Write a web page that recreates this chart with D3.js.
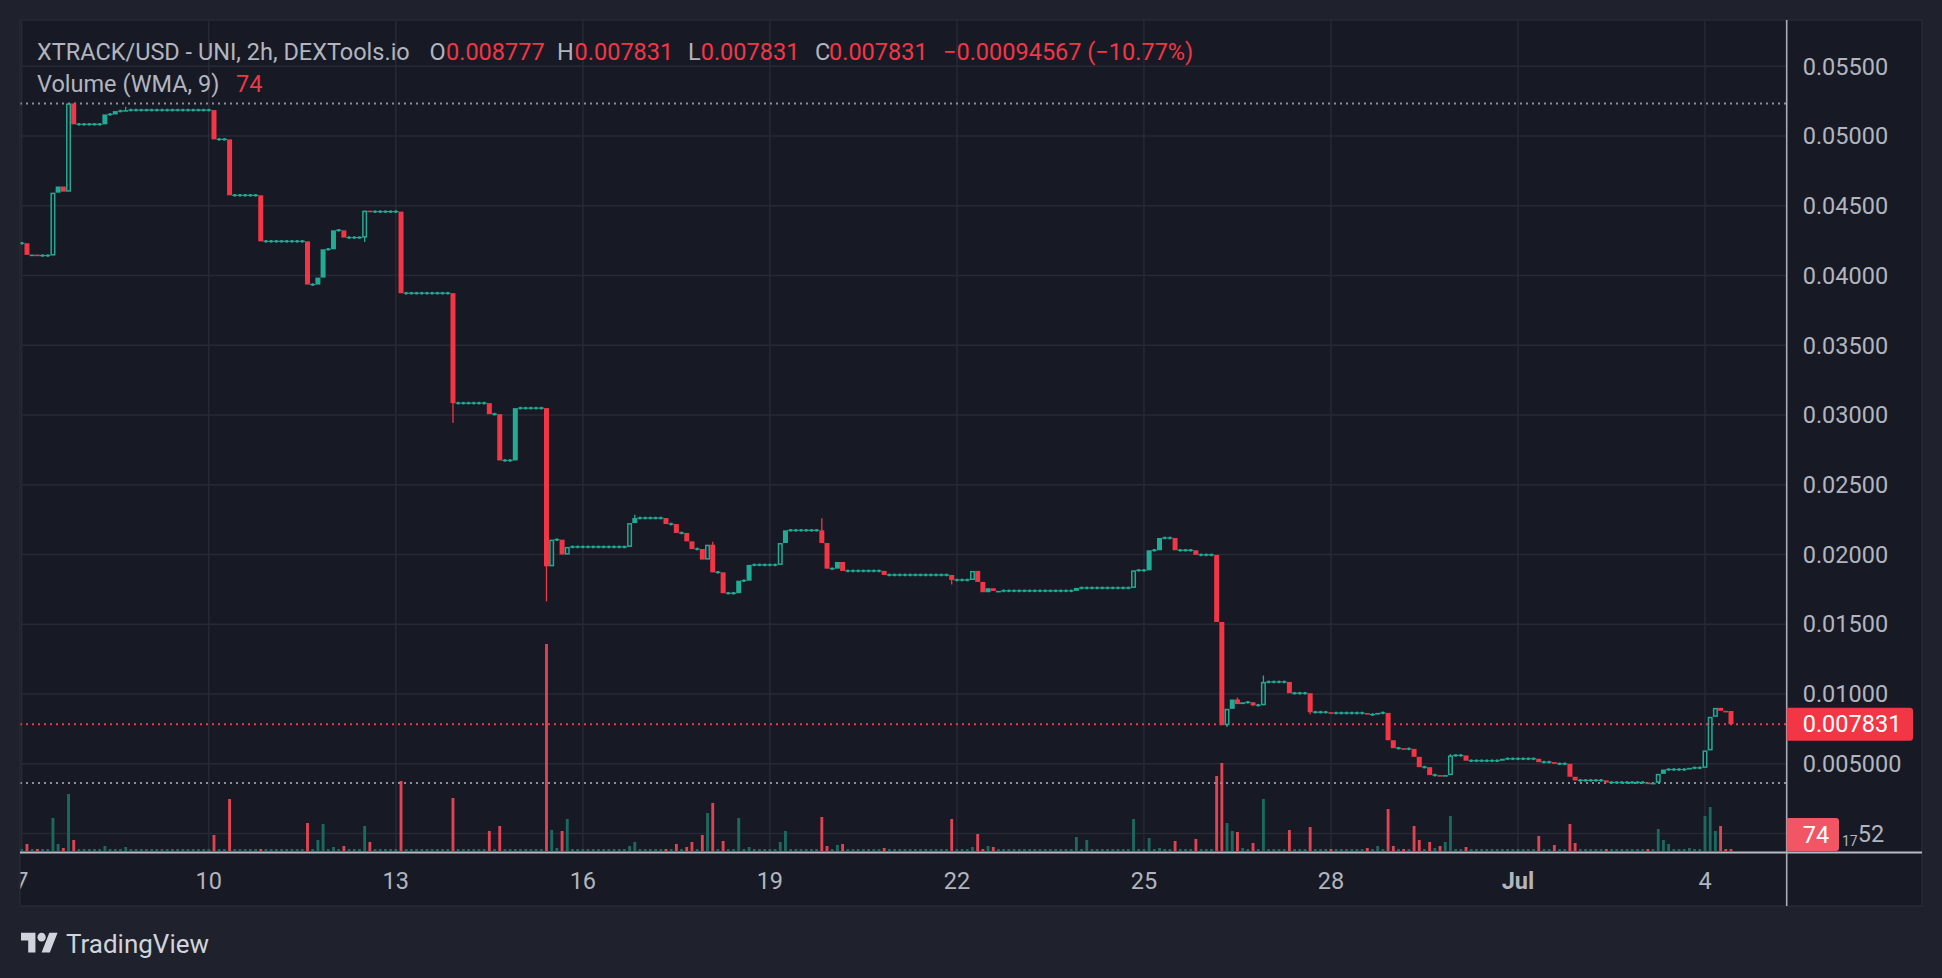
<!DOCTYPE html>
<html><head><meta charset="utf-8">
<script src="https://cdn.jsdelivr.net/npm/d3@7"></script>
<style>
html,body{margin:0;padding:0;background:#1f222d;}
svg{display:block;}
text{font-family:Roboto,"DejaVu Sans",sans-serif;}
</style></head><body>
<svg id="c" width="1942" height="978"></svg>
<script>
// ---------------- DATA ----------------
const startTime = Date.UTC(2024, 5, 7, 0);   // first 2h candle
const barHours = 2;
const firstOpen = 0.04231;
const closes = [
0.04231,0.04148,0.04150,0.04143,0.04143,0.04143,0.04594,0.04638,0.04601,0.05234,
0.05084,0.05084,0.05084,0.05084,0.05084,0.05084,0.05155,0.05155,0.05179,0.05179,
0.05186,0.05186,0.05186,0.05186,0.05186,0.05186,0.05186,0.05186,0.05186,0.05186,
0.05186,0.05186,0.05186,0.05186,0.05186,0.05186,0.05186,0.04976,0.04976,0.04976,
0.04575,0.04575,0.04575,0.04575,0.04575,0.04575,0.04245,0.04245,0.04245,0.04245,
0.04245,0.04245,0.04245,0.04245,0.04245,0.03935,0.03935,0.03985,0.04188,0.04188,
0.04324,0.04324,0.04272,0.04272,0.04272,0.04272,0.04465,0.04458,0.04458,0.04458,
0.04458,0.04458,0.04458,0.03873,0.03873,0.03873,0.03873,0.03873,0.03873,0.03873,
0.03873,0.03873,0.03873,0.03085,0.03085,0.03085,0.03085,0.03085,0.03085,0.03085,
0.03006,0.03006,0.02674,0.02674,0.02674,0.03049,0.03049,0.03049,0.03049,0.03049,
0.03049,0.01915,0.02106,0.02106,0.01999,0.02054,0.02054,0.02054,0.02054,0.02054,
0.02054,0.02054,0.02054,0.02054,0.02054,0.02054,0.02054,0.02225,0.02261,0.02261,
0.02261,0.02261,0.02261,0.02261,0.02218,0.02218,0.02154,0.02154,0.02094,0.02039,
0.02039,0.01963,0.02070,0.01872,0.01872,0.01722,0.01722,0.01722,0.01812,0.01812,
0.01925,0.01925,0.01925,0.01925,0.01925,0.01925,0.02082,0.02173,0.02173,0.02173,
0.02173,0.02173,0.02173,0.02173,0.02082,0.01898,0.01898,0.01946,0.01882,0.01882,
0.01882,0.01882,0.01882,0.01882,0.01882,0.01882,0.01853,0.01853,0.01853,0.01853,
0.01853,0.01853,0.01853,0.01853,0.01853,0.01853,0.01853,0.01853,0.01853,0.01817,
0.01817,0.01817,0.01817,0.01882,0.01803,0.01729,0.01758,0.01738,0.01739,0.01739,
0.01739,0.01739,0.01739,0.01739,0.01739,0.01739,0.01739,0.01739,0.01739,0.01739,
0.01739,0.01739,0.01739,0.01760,0.01760,0.01760,0.01760,0.01760,0.01760,0.01760,
0.01760,0.01760,0.01760,0.01760,0.01886,0.01886,0.01886,0.02030,0.02030,0.02118,
0.02118,0.02118,0.02030,0.02030,0.02030,0.02030,0.01997,0.01997,0.01997,0.01997,
0.01516,0.00776,0.00893,0.00960,0.00927,0.00940,0.00940,0.00919,0.00919,0.01086,
0.01086,0.01086,0.01086,0.01086,0.01005,0.01005,0.01005,0.01005,0.00869,0.00869,
0.00869,0.00869,0.00863,0.00863,0.00863,0.00863,0.00863,0.00863,0.00863,0.00852,
0.00852,0.00864,0.00864,0.00668,0.00611,0.00611,0.00606,0.00606,0.00549,0.00475,
0.00475,0.00418,0.00418,0.00410,0.00418,0.00559,0.00559,0.00559,0.00521,0.00521,
0.00521,0.00521,0.00521,0.00521,0.00521,0.00535,0.00535,0.00535,0.00535,0.00535,
0.00535,0.00535,0.00511,0.00511,0.00511,0.00499,0.00499,0.00499,0.00406,0.00380,
0.00380,0.00380,0.00380,0.00380,0.00380,0.00365,0.00365,0.00365,0.00365,0.00365,
0.00365,0.00365,0.00365,0.00362,0.00363,0.00427,0.00458,0.00458,0.00458,0.00458,
0.00458,0.00470,0.00470,0.00470,0.00595,0.00836,0.00900,0.00879,0.008777,0.007831
];
const wickHighs = [[20,0.0521],[118,0.02285],[133,0.02091],[154,0.0226],[234,0.00974],[239,0.01132],[275,0.00569]];
const wickLows  = [[66,0.0424],[83,0.02942],[101,0.01664],[179,0.01784],[232,0.00762],[237,0.00912],[248,0.00855]];
const volumes = [
74,259,74,74,74,74,1221,259,111,2109,
407,74,74,74,74,74,185,74,74,74,
148,74,74,74,74,74,74,74,74,74,
74,74,74,74,74,74,74,592,74,74,
1924,74,74,74,74,74,74,74,74,74,
74,74,74,74,74,1036,74,407,999,74,
148,74,185,74,74,74,925,333,74,74,
74,74,74,2590,74,74,74,74,74,74,
74,74,74,1961,74,74,74,74,74,74,
740,74,925,74,74,74,74,74,74,74,
74,7659,777,111,740,1184,74,74,74,74,
74,74,74,74,74,74,74,185,333,74,
74,74,74,74,74,74,259,74,148,333,
74,592,1406,1776,74,370,74,74,1221,74,
148,74,74,74,74,74,333,740,74,74,
74,74,74,74,1258,185,74,222,259,74,
74,74,74,74,74,74,111,74,74,74,
74,74,74,74,74,74,74,74,74,1184,
74,74,74,148,629,74,185,148,74,74,
74,74,74,74,74,74,74,74,74,74,
74,74,74,518,74,407,74,74,74,74,
74,74,74,74,1184,74,74,481,74,111,
74,74,370,74,74,74,444,74,74,74,
2775,3256,1036,740,703,111,74,296,74,1924,
74,74,74,74,777,74,74,74,888,74,
74,74,74,74,74,74,74,74,74,111,
74,185,74,1554,185,74,74,74,925,407,
74,333,111,185,333,1295,74,74,148,74,
74,74,74,74,74,74,74,74,74,74,
74,74,555,74,74,222,74,74,999,296,
74,74,74,74,74,74,74,74,74,74,
74,74,74,74,74,814,407,259,74,74,
74,111,74,74,1295,1628,740,925,74,74
];
const hollowCandles = [6,9,66,102,105,117,132,146,183,214,232,239,275,315,324,325,326];
const priceTicks = [0.005,0.010,0.015,0.020,0.025,0.030,0.035,0.040,0.045,0.050,0.055];
const priceTickLabels = ["0.005000","0.01000","0.01500","0.02000","0.02500","0.03000","0.03500","0.04000","0.04500","0.05000","0.05500"];
const zeroTickVisible = ["17","52"];   // visible tail of the "0.0₁₇52" label behind the volume box
const timeTicks = [Date.UTC(2024,5,7),Date.UTC(2024,5,10),Date.UTC(2024,5,13),Date.UTC(2024,5,16),Date.UTC(2024,5,19),Date.UTC(2024,5,22),Date.UTC(2024,5,25),Date.UTC(2024,5,28),Date.UTC(2024,6,1),Date.UTC(2024,6,4)];
const timeTickLabels = ["7","10","13","16","19","22","25","28","Jul","4"];
const lastPrice = 0.007831;
const lastVolume = 74;

// ---------------- LAYOUT ----------------
const W = 1942, H = 978;
const panel = {x0: 20, y0: 20, x1: 1922, y1: 906};
const plotRight = 1786.7, timeAxisY = 852.5;
const UP = "#22ab94", DOWN = "#f23645", TXT = "#b2b5be", GRID = "#262a36", PANEL = "#171a25";

const svg = d3.select("#c");
const x = d3.scaleUtc().domain([Date.UTC(2024,5,10), Date.UTC(2024,6,4)]).range([208.8, 1705]);
const y = d3.scaleLinear().domain([0, 0.055]).range([833.4, 66.3]);
const yVol = d3.scaleLinear().domain([0, d3.max(volumes)]).range([851, 644]);
const step = x(startTime + barHours*3600e3) - x(startTime);

const candles = closes.map((c, i) => {
  const o = i === 0 ? firstOpen : closes[i-1];
  let h = Math.max(o, c), l = Math.min(o, c);
  return {i, t: startTime + i*barHours*3600e3, o, c, h, l, v: volumes[i]};
});
wickHighs.forEach(([i, v]) => candles[i].h = v);
wickLows.forEach(([i, v]) => candles[i].l = v);
const hollowSet = new Set(hollowCandles);

// backgrounds
svg.append("rect").attr("width", W).attr("height", H).attr("fill", "#1f222d");
svg.append("rect").attr("x", panel.x0).attr("y", panel.y0)
  .attr("width", panel.x1 - panel.x0).attr("height", panel.y1 - panel.y0)
  .attr("fill", PANEL).attr("stroke", "#2a2e39").attr("stroke-width", 1);

const defs = svg.append("defs");
defs.append("clipPath").attr("id", "plotClip").append("rect")
  .attr("x", panel.x0 + 0.5).attr("y", panel.y0 + 0.5).attr("width", plotRight - panel.x0 - 0.5).attr("height", timeAxisY - panel.y0 - 0.5);
defs.append("clipPath").attr("id", "timeClip").append("rect")
  .attr("x", panel.x0 + 0.5).attr("y", timeAxisY).attr("width", plotRight - panel.x0).attr("height", panel.y1 - timeAxisY);

const plot = svg.append("g").attr("clip-path", "url(#plotClip)");

// grid
const gridTicks = [0].concat(priceTicks);
plot.append("g").selectAll("line").data(gridTicks).join("line")
  .attr("x1", panel.x0).attr("x2", plotRight)
  .attr("y1", d => y(d)).attr("y2", d => y(d))
  .attr("stroke", GRID).attr("stroke-width", 1.5);
plot.append("g").selectAll("line").data(timeTicks).join("line")
  .attr("x1", d => x(d)).attr("x2", d => x(d))
  .attr("y1", panel.y0).attr("y2", timeAxisY)
  .attr("stroke", GRID).attr("stroke-width", 1.5);

// volume bars
const vw = step * 0.55;
plot.append("g").selectAll("rect").data(candles).join("rect")
  .attr("x", d => x(d.t) - vw/2)
  .attr("width", vw)
  .attr("y", d => Math.min(yVol(d.v), 851 - 1.6))
  .attr("height", d => Math.max(851 - yVol(d.v), 1.6))
  .attr("fill", d => d.c < d.o ? "rgba(242,70,85,0.92)" : "#1b6a5f");

// high / low / last price dotted lines
const hi = d3.max(candles, d => d.h), lo = d3.min(candles, d => d.l);
[[hi, "#8c8f98"], [lo, "#8c8f98"], [lastPrice, DOWN]].forEach(([v, col]) => {
  plot.append("line").attr("x1", panel.x0).attr("x2", plotRight)
    .attr("y1", y(v)).attr("y2", y(v))
    .attr("stroke", col).attr("stroke-width", 2).attr("stroke-dasharray", "2 4");
});

// candles
const bw = step * 0.96;
const cg = plot.append("g");
candles.forEach(d => {
  const cx = x(d.t);
  const up = d.c >= d.o;
  const col = up ? UP : DOWN;
  if (d.h > Math.max(d.o, d.c) || d.l < Math.min(d.o, d.c)) {
    cg.append("line").attr("x1", cx).attr("x2", cx)
      .attr("y1", y(d.h)).attr("y2", y(d.l)).attr("stroke", col).attr("stroke-width", 1.3);
  }
  if (d.o === d.c) {
    cg.append("rect").attr("x", cx - step/2).attr("width", step)
      .attr("y", y(d.c) - 0.6).attr("height", 1.2).attr("fill", col);
    cg.append("rect").attr("x", cx - 1.2).attr("width", 2.4)
      .attr("y", y(d.c) - 1.3).attr("height", 2.6).attr("fill", col);
    return;
  }
  const top = y(Math.max(d.o, d.c)), bot = y(Math.min(d.o, d.c));
  const hgt = Math.max(bot - top, 1.6);
  if (up && hollowSet.has(d.i)) {
    cg.append("rect").attr("x", cx - bw/2 + 0.75).attr("width", bw - 1.5)
      .attr("y", top + 0.75).attr("height", Math.max(hgt - 1.5, 0.5))
      .attr("fill", PANEL).attr("stroke", col).attr("stroke-width", 1.5);
  } else {
    cg.append("rect").attr("x", cx - bw/2).attr("width", bw)
      .attr("y", top).attr("height", hgt).attr("fill", col);
  }
});

// axis lines
svg.append("line").attr("x1", panel.x0).attr("x2", panel.x1).attr("y1", timeAxisY).attr("y2", timeAxisY)
  .attr("stroke", "#b8bbc3").attr("stroke-width", 2);
svg.append("line").attr("x1", plotRight).attr("x2", plotRight).attr("y1", panel.y0).attr("y2", panel.y1)
  .attr("stroke", "#a9acb5").attr("stroke-width", 1.6);

// price axis labels
const FS = 23.5;
const pAxis = svg.append("g").attr("font-size", FS).attr("fill", TXT);
pAxis.selectAll("text").data(priceTicks).join("text")
  .attr("x", 1802.7).attr("y", d => y(d) + 8.3)
  .text((d, k) => priceTickLabels[k]);
// tail of the zero-line label, the head of which is hidden behind the volume box
const zl = pAxis.append("text").attr("x", 1842).attr("y", y(0) + 8.3);
zl.append("tspan").attr("font-size", 14).attr("dy", 4).text(zeroTickVisible[0]);
zl.append("tspan").attr("dy", -4).text(zeroTickVisible[1]);

// last price box
const ly = y(lastPrice);
svg.append("path")
  .attr("d", `M${plotRight},${ly-16.5} H1910 a3,3 0 0 1 3,3 V${ly+13.5} a3,3 0 0 1 -3,3 H${plotRight} Z`)
  .attr("fill", DOWN);
svg.append("text").attr("x", 1802.7).attr("y", ly + 8.3).attr("font-size", FS).attr("fill", "#ffffff")
  .text(lastPrice.toFixed(6));
// volume box
svg.append("path")
  .attr("d", `M${plotRight},818 H1836 a3,3 0 0 1 3,3 V848 a3,3 0 0 1 -3,3 H${plotRight} Z`)
  .attr("fill", "#f25563");
svg.append("text").attr("x", 1802.7).attr("y", 834.5 + 8.3).attr("font-size", FS).attr("fill", "#ffffff")
  .text(lastVolume);

// time axis labels
const tAxis = svg.append("g").attr("clip-path", "url(#timeClip)").attr("font-size", FS).attr("fill", TXT)
  .attr("text-anchor", "middle");
tAxis.selectAll("text").data(timeTicks).join("text")
  .attr("x", d => x(d)).attr("y", 881 + 8.3)
  .attr("font-weight", (d, k) => timeTickLabels[k] === "Jul" ? "bold" : "normal")
  .text((d, k) => timeTickLabels[k]);

// header legend
const hdr = svg.append("g").attr("font-size", FS);
const hitems = [
  [37, "XTRACK/USD - UNI, 2h, DEXTools.io", TXT],
  [429.5, "O", TXT], [446, "0.008777", DOWN],
  [557, "H", TXT], [574.6, "0.007831", DOWN],
  [688, "L", TXT], [700.7, "0.007831", DOWN],
  [815, "C", TXT], [829, "0.007831", DOWN],
  [943, "\u22120.00094567 (\u221210.77%)", DOWN]
];
hitems.forEach(([xx, t, col]) => hdr.append("text").attr("x", xx).attr("y", 59.5).attr("fill", col).text(t));
hdr.append("text").attr("x", 37).attr("y", 92).attr("fill", TXT).text("Volume (WMA, 9)");
hdr.append("text").attr("x", 236).attr("y", 92).attr("fill", DOWN).text(lastVolume);

// TradingView logo
const logo = svg.append("g").attr("transform", "translate(21,928.4) scale(1.03,1.1)").attr("fill", "#d1d4dc");
logo.append("path").attr("d", "M14 22H7V11H0V4h14v18zM28 22h-8l7.5-18h8L28 22z");
logo.append("circle").attr("cx", 20).attr("cy", 8).attr("r", 4);
svg.append("text").attr("x", 66).attr("y", 952.5).attr("font-size", 25).attr("fill", "#d1d4dc")
  .attr("textLength", 143).attr("lengthAdjust", "spacingAndGlyphs").text("TradingView");
</script>
</body></html>
